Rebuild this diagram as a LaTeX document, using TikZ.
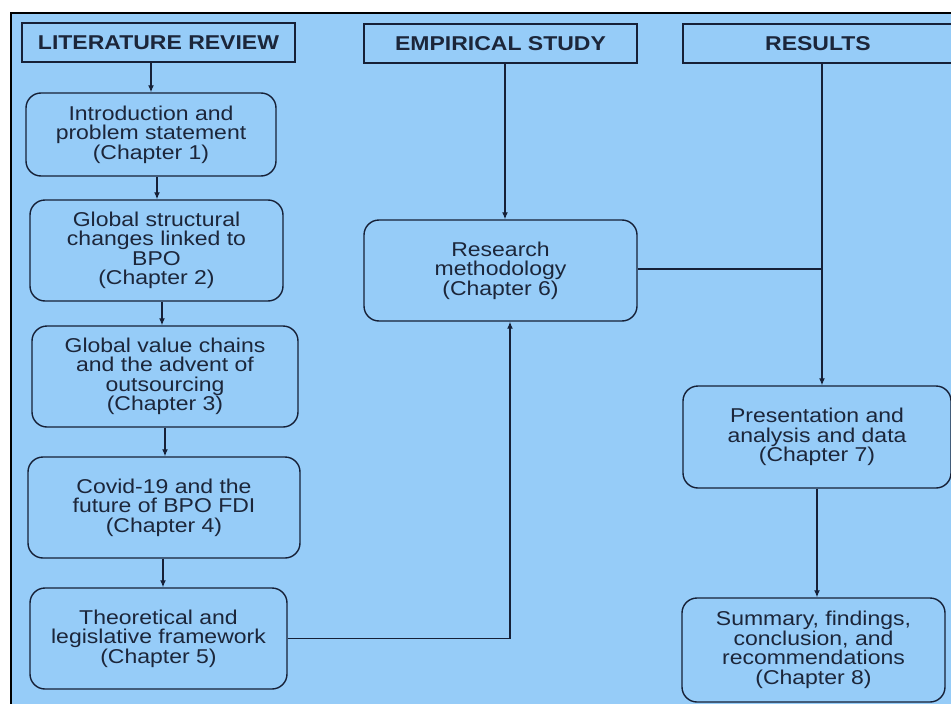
\documentclass[tikz,border=0pt]{standalone}
\usepackage{fontspec}
\setmainfont[FakeStretch=1.15]{Liberation Sans}
\usetikzlibrary{arrows.meta,calc}
\definecolor{bgblue}{RGB}{150,204,248}
\definecolor{ink}{RGB}{28,38,58}
\definecolor{edge}{RGB}{22,32,55}
\newcommand\tightlines{\lineskiplimit=-50pt\relax\lineskip=0pt\relax}
\begin{document}
\begin{tikzpicture}[x=1pt,y=-1pt,
  hdr/.style={draw=edge,line width=1.4pt,rectangle,text=ink,inner sep=0pt,
    font=\fontsize{20}{20}\selectfont\bfseries,minimum height=39pt},
  chap/.style={draw=edge,line width=1.4pt,rectangle,rounded corners=15pt,text=ink,
    inner sep=0pt,align=center,
    font=\fontsize{20}{19.5}\selectfont\tightlines},
  arr/.style={draw=edge,line width=1.3pt,-{Latex[length=7pt,width=6pt]}},
  ln/.style={draw=edge,line width=1.3pt}]
\useasboundingbox (0,0) rectangle (951,704);
\clip (0,0) rectangle (951,704);
\fill[white] (0,0) rectangle (951,704);
\fill[bgblue] (11,13) rectangle (955,708);
\draw[black,line width=2pt] (11,708) -- (11,13) -- (955,13);

\node[hdr,minimum width=273pt] (lit) at (158.5,42.5) {LITERATURE REVIEW};
\node[hdr,minimum width=273pt] (emp) at (500.5,43.5) {EMPIRICAL STUDY};
\node[hdr,minimum width=270pt] (res) at (818,43.5) {RESULTS};

\node[chap,minimum width=250pt,minimum height=83pt] (intro) at (151,134.5)
  {Introduction and\\problem statement\\(Chapter 1)};
\node[chap,minimum width=253pt,minimum height=101pt] (gsc) at (156.5,250.5)
  {Global structural\\changes linked to\\BPO\\(Chapter 2)};
\node[chap,minimum width=266pt,minimum height=101pt] (gvc) at (165,376.5)
  {Global value chains\\and the advent of\\outsourcing\\(Chapter 3)};
\node[chap,minimum width=272pt,minimum height=101pt] (cov) at (164,507.5)
  {Covid-19 and the\\future of BPO FDI\\(Chapter 4)};
\node[chap,minimum width=257pt,minimum height=101pt] (theo) at (158.5,638.5)
  {Theoretical and\\legislative framework\\(Chapter 5)};
\node[chap,minimum width=273pt,minimum height=101pt] (rm) at (500.5,270.5)
  {Research\\methodology\\(Chapter 6)};
\node[chap,minimum width=268pt,minimum height=102pt] (pad) at (817,437)
  {Presentation and\\analysis and data\\(Chapter 7)};
\node[chap,minimum width=263pt,minimum height=104pt] (sum) at (813.5,650)
  {Summary, findings,\\conclusion, and\\recommendations\\(Chapter 8)};

\draw[arr] (intro.north |- lit.south) -- (intro.north);
\draw[arr] (intro.south -| 157,0) -- (gsc.north -| 157,0);
\draw[arr] (gsc.south -| 162,0) -- (gvc.north -| 162,0);
\draw[arr] (gvc.south) -- (gvc.south |- cov.north);
\draw[arr] (cov.south -| 163,0) -- (theo.north -| 163,0);

\coordinate (ea) at (505,0);
\draw[arr] (emp.south -| ea) -- (rm.north -| ea);

\coordinate (tb) at (510,0);
\draw[arr] (theo.east) -- (theo.east -| tb) -- (rm.south -| tb);

\coordinate (rx) at (822,269);
\draw[ln] (rm.east |- rx) -- (rx);
\draw[arr] (res.south -| rx) -- (pad.north -| rx);

\coordinate (px) at (817,0);
\draw[arr] (pad.south -| px) -- (sum.north -| px);
\end{tikzpicture}
\end{document}
